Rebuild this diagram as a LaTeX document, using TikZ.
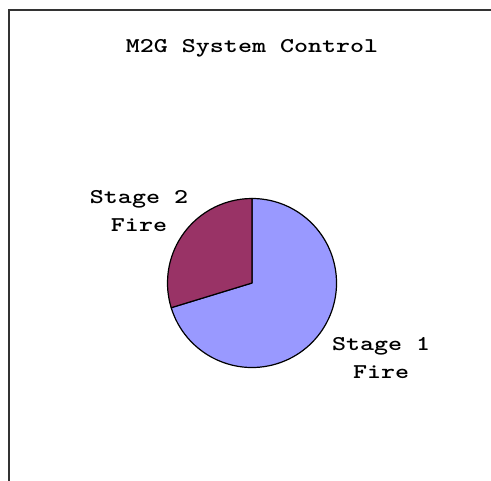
\documentclass[tikz,border=0pt]{standalone}
\usepackage{tikz}
\usetikzlibrary{positioning}

\begin{document}
\begin{tikzpicture}[x=1bp,y=1bp,
    chartlabel/.style={align=center,inner sep=0pt,xscale=1.27,
        font=\ttfamily\bfseries\fontsize{21bp}{28bp}\selectfont},
    slice/.style={draw=black,line width=1.2bp,line join=round}]
    \useasboundingbox (0,0) rectangle (491,481);
    % frame, only top and left edge visible
    \draw [line width=2bp,black!80] (8.5,0) -- (8.5,470.5) -- (491,470.5);
    \coordinate (hub) at (252,198);
    % slices
    \draw [slice,fill={rgb,255:red,153;green,153;blue,255}]
        (hub) -- ++(197:84.5) arc (197:450:84.5) -- cycle;
    \draw [slice,fill={rgb,255:red,153;green,51;blue,102}]
        (hub) -- ++(90:84.5) arc (90:197:84.5) -- cycle;
    % labels
    \node[chartlabel] (title) at (252,433) {M2G System Control};
    \node[chartlabel] (stagetwo) at (139,270) {Stage 2\\Fire};
    \node[chartlabel] (stageone) at (381,123) {Stage 1\\Fire};
\end{tikzpicture}
\end{document}
